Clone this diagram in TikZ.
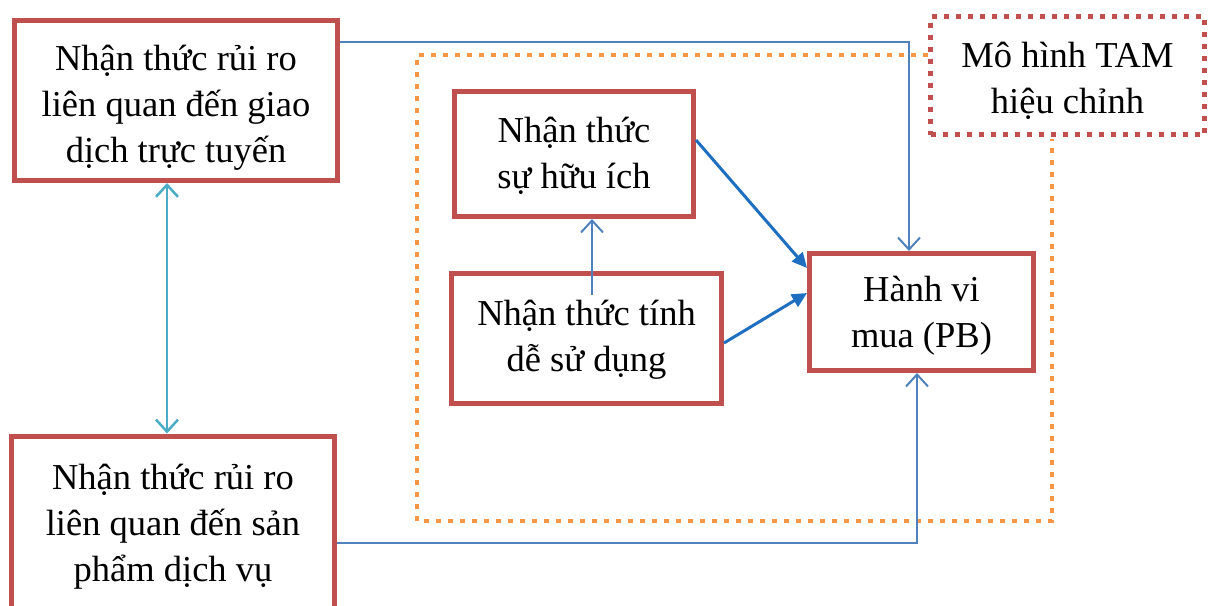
\documentclass[tikz,border=0pt]{standalone}
\usepackage{fontspec}
\setmainfont{Liberation Serif}
\usetikzlibrary{arrows.meta}
\definecolor{boxred}{HTML}{C0504D}
\definecolor{linkblue}{HTML}{4F81BD}
\definecolor{strongblue}{HTML}{1F6FC0}
\definecolor{linkcyan}{HTML}{4BACC6}
\definecolor{tamorange}{HTML}{F79646}
\begin{document}
\begin{tikzpicture}[x=1pt,y=-1pt,
  txt/.style={align=center, inner sep=0pt, font=\fontsize{36.5}{46}\selectfont},
  factor/.style={draw=boxred, line width=5pt, inner sep=0pt},
  tambox/.style={draw=boxred, line width=5pt, dash pattern=on 5pt off 7pt, inner sep=0pt},
  frame/.style={draw=tamorange, line width=4.5pt, dash pattern=on 5pt off 7pt},
  thinlink/.style={draw=linkblue, line width=2pt, -{Straight Barb[length=12pt,width=22pt,line width=2pt]}},
  strong/.style={draw=strongblue, line width=3pt, -{Triangle[length=15pt,width=14pt]}},
  mutual/.style={draw=linkcyan, line width=2.5pt, {Straight Barb[length=12pt,width=22pt,line width=2.5pt]}-{Straight Barb[length=12pt,width=22pt,line width=2.5pt]}}
]
\useasboundingbox (0,0) rectangle (1218,605);
\clip (0,0) rectangle (1218,605);

% dotted frame around the TAM part
\coordinate (f1) at (928,55);
\coordinate (f2) at (417,55);
\coordinate (f3) at (417,521);
\coordinate (f4) at (1052,521);
\coordinate (f5) at (1052,139);
\draw[frame] (f1) -- (f2) -- (f3) -- (f4) -- (f5);

% factor boxes
\node[factor, minimum width=323pt, minimum height=160pt] (A) at (176,100.5) {};
\node[factor, minimum width=323pt, minimum height=172pt] (B) at (173,522) {};
\node[factor, minimum width=239pt, minimum height=125pt] (C) at (574,154) {};
\node[factor, minimum width=270pt, minimum height=130pt] (D) at (586.5,338.5) {};
\node[factor, minimum width=224pt, minimum height=117pt] (E) at (921.5,312) {};
\node[tambox, minimum width=274pt, minimum height=118pt, fill=white] (T) at (1067.5,75.5) {};

% box labels
\node[txt] (At) at ([yshift=-7pt]A.center) {Nhận thức rủi ro\\liên quan đến giao\\dịch trực tuyến};
\node[txt] (Bt) at ([yshift=-5pt]B.center) {Nhận thức rủi ro\\liên quan đến sản\\phẩm dịch vụ};
\node[txt] (Ct) at ([yshift=-2pt]C.center) {Nhận thức\\sự hữu ích};
\node[txt] (Dt) at ([yshift=-1.5pt]D.center) {Nhận thức tính\\dễ sử dụng};
\node[txt] (Et) at ([yshift=-4pt]E.center) {Hành vi\\mua (PB)};
\node[txt] (Tt) at ([yshift=-5pt]T.center) {Mô hình TAM\\hiệu chỉnh};

% connectors
\coordinate (ya) at (0,42);
\coordinate (xa) at (909,0);
\draw[thinlink] (A.east |- ya) -| (xa |- E.north);

\coordinate (yb) at (0,543);
\coordinate (xb) at (917,0);
\draw[thinlink] (B.east |- yb) -| (xb |- E.south);

\draw[strong] ([yshift=14pt]C.east) -- ([yshift=44pt]E.west);
\draw[strong] ([yshift=-4.5pt]D.east) -- ([yshift=19pt]E.west);

\coordinate (dc) at (592,295);
\draw[thinlink] (dc) -- (dc |- C.south);

\coordinate (xab) at (167,0);
\draw[mutual] (xab |- A.south) -- (xab |- B.north);
\end{tikzpicture}
\end{document}
